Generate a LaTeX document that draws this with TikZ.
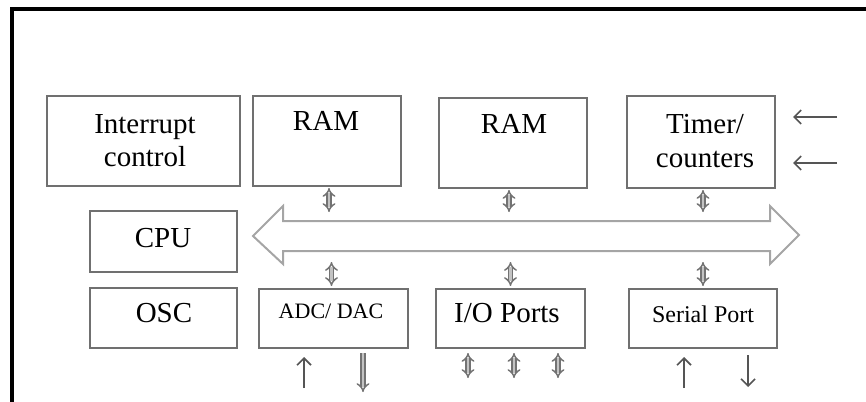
\documentclass[tikz,border=0pt]{standalone}
\usepackage{fontspec}
\setmainfont{Liberation Serif}
\usetikzlibrary{arrows.meta}
\definecolor{boxline}{RGB}{112,112,112}
\definecolor{busline}{RGB}{165,165,165}
\definecolor{linkline}{RGB}{115,115,115}
\definecolor{linkfill}{RGB}{195,195,195}
\definecolor{pinline}{RGB}{85,85,85}

\begin{document}
\begin{tikzpicture}[x=1pt,y=-1pt,
  unit/.style={draw=boxline, line width=2pt, inner sep=0pt},
  lbl/.style={anchor=base, inner sep=0pt, font=\fontsize{29}{33}\selectfont},
  lblsmall/.style={lbl, font=\fontsize{22}{26}\selectfont},
  lblmid/.style={lbl, font=\fontsize{24}{28}\selectfont},
  link/.style={draw=linkline, line width=1.5pt, double=linkfill, double distance=2.8pt,
    {Implies[length=2.5pt]}-{Implies[length=2.5pt]}},
  linkout/.style={draw=linkline, line width=1.5pt, double=linkfill, double distance=2.8pt,
    -{Implies[length=2.5pt]}},
  pin/.style={draw=pinline, line width=1.6pt, -{Straight Barb[length=7pt,width=14pt]}},
  bus/.style={draw=busline, line width=2pt, line join=miter}]

\useasboundingbox (0,0) rectangle (866,401);
\clip (0,0) rectangle (866,401);

% outer frame (runs off the right and bottom edges)
\draw[black, line width=4pt] (11.5,410) -- (11.5,9.5) -- (875,9.5);

% functional blocks
\node[unit, minimum width=193pt, minimum height=90pt] (intr)   at (143.5,141) {};
\node[unit, minimum width=148pt, minimum height=90pt] (ram1)   at (327,141)   {};
\node[unit, minimum width=148pt, minimum height=90pt] (ram2)   at (513,143)   {};
\node[unit, minimum width=148pt, minimum height=92pt] (timer)  at (701,142)   {};
\node[unit, minimum width=147pt, minimum height=61pt] (cpu)    at (163.5,241.5) {};
\node[unit, minimum width=147pt, minimum height=60pt] (osc)    at (163.5,318) {};
\node[unit, minimum width=149pt, minimum height=59pt] (adc)    at (333.5,318.5) {};
\node[unit, minimum width=149pt, minimum height=59pt] (io)     at (510.5,318.5) {};
\node[unit, minimum width=148pt, minimum height=59pt] (serial) at (703,318.5) {};

% block labels
\node[lbl] (t-intr1) at (145,133) {Interrupt};
\node[lbl] (t-intr2) at (145,166) {control};
\node[lbl] (t-ram1)  at (326,130) {RAM};
\node[lbl] (t-ram2)  at (514,133) {RAM};
\node[lbl] (t-tim1)  at (705,133) {Timer/};
\node[lbl] (t-tim2)  at (705,167) {counters};
\node[lbl] (t-cpu)   at (163,247) {CPU};
\node[lbl] (t-osc)   at (164,322) {OSC};
\node[lblsmall] (t-adc) at (331,318) {ADC/ DAC};
\node[lbl] (t-io)    at (507,322) {I/O Ports};
\node[lblmid] (t-ser) at (703,322) {Serial Port};

% system bus (double-headed block arrow)
\coordinate (busN) at (0,221);
\coordinate (busS) at (0,251);
\draw[bus] (253,236) -- (283,206) -- (283,221) -- (770,221) -- (770,206)
  -- (799,235) -- (770,264) -- (770,251) -- (283,251) -- (283,264) -- cycle;

% bus connections, upper row
\draw[link, shorten >=9pt] ([xshift=2pt,yshift=-1pt]ram1.south) -- ([xshift=2pt]ram1.south |- busN);
\draw[link, shorten >=9pt] ([xshift=-4pt,yshift=-1pt]ram2.south) -- ([xshift=-4pt]ram2.south |- busN);
\draw[link, shorten >=9pt] ([xshift=2pt,yshift=-1pt]timer.south) -- ([xshift=2pt]timer.south |- busN);

% bus connections, lower row
\draw[link, shorten <=11pt] ([xshift=-2pt]adc.north |- busS) -- ([xshift=-2pt,yshift=2pt]adc.north);
\draw[link, shorten <=11pt] (io.north |- busS) -- ([yshift=2pt]io.north);
\draw[link, shorten <=11pt] (serial.north |- busS) -- ([yshift=2pt]serial.north);

% timer inputs
\coordinate (tin1) at (837,117);
\coordinate (tin2) at (837,163);
\draw[pin, shorten >=17pt] (tin1) -- (tin1 -| timer.east);
\draw[pin, shorten >=17pt] (tin2) -- (tin2 -| timer.east);

% ADC/DAC signals
\coordinate (adcIn)  at (304,388);
\coordinate (adcOut) at (363,392);
\draw[pin, shorten >=8pt] (adcIn) -- (adcIn |- adc.south);
\draw[linkout, shorten <=4pt] (adcOut |- adc.south) -- (adcOut);

% I/O port lines
\coordinate (io1) at (468,378);
\coordinate (io2) at (514,378);
\coordinate (io3) at (558,378);
\draw[link, shorten <=4pt] (io1 |- io.south) -- (io1);
\draw[link, shorten <=4pt] (io2 |- io.south) -- (io2);
\draw[link, shorten <=4pt] (io3 |- io.south) -- (io3);

% serial lines
\coordinate (rxd) at (684,388);
\coordinate (txd) at (748,387);
\draw[pin, shorten >=8pt] (rxd) -- (rxd |- serial.south);
\draw[pin, shorten <=6pt] (txd |- serial.south) -- (txd);
\end{tikzpicture}
\end{document}
